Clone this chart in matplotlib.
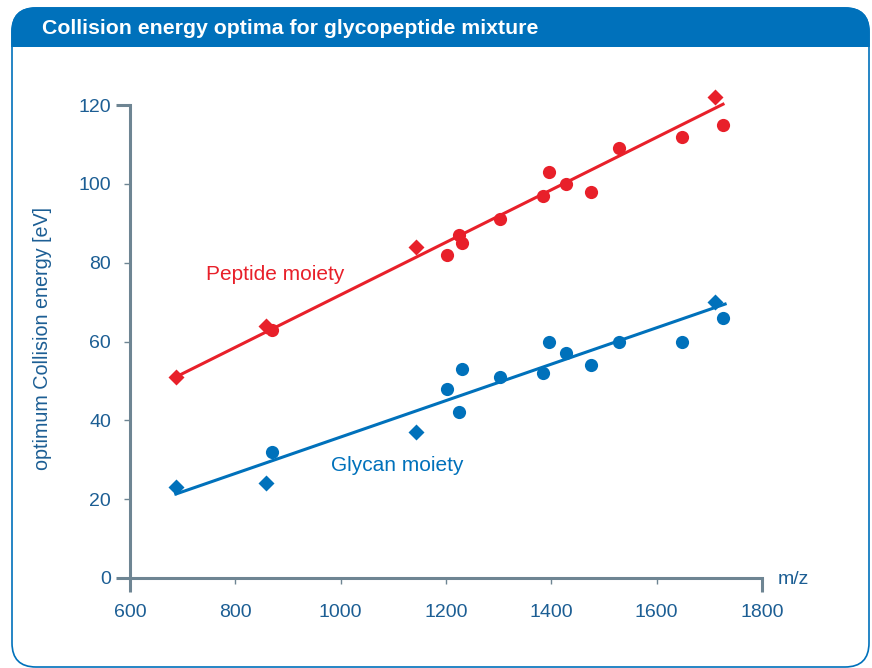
import matplotlib.pyplot as plt
from matplotlib.patches import FancyBboxPatch, Rectangle
from matplotlib.transforms import IdentityTransform

# data
pep_diam_x = [687, 858, 1143, 1711]
pep_diam_y = [51, 64, 84, 122]
pep_circ_x = [870, 1202, 1225, 1230, 1302, 1384, 1395, 1428, 1475, 1528, 1648, 1726]
pep_circ_y = [63, 82, 87, 85, 91, 97, 103, 100, 98, 109, 112, 115]
pep_fit_x = [687, 1726]
pep_fit_y = [51, 120.2]

gly_diam_x = [687, 858, 1143, 1711]
gly_diam_y = [23, 24, 37, 70]
gly_circ_x = [870, 1202, 1225, 1230, 1302, 1384, 1395, 1428, 1475, 1528, 1648, 1726]
gly_circ_y = [32, 48, 42, 53, 51, 52, 60, 57, 54, 60, 60, 66]
gly_fit_x = [687, 1730]
gly_fit_y = [21.3, 69.5]

x_ticks = [600, 800, 1000, 1200, 1400, 1600, 1800]
y_ticks = [0, 20, 40, 60, 80, 100, 120]

RED = "#e8202a"
BLUE = "#0071bb"
AXIS = "#6e8593"
LABEL = "#1c5e94"

plt.rcParams["font.family"] = ["Liberation Sans", "DejaVu Sans"]

W, H = 872, 668
fig = plt.figure(figsize=(W / 100, H / 100), dpi=100)

# framed panel with blue header band
box = FancyBboxPatch((12, 1), 857, 659, boxstyle="round,pad=0,rounding_size=24",
                     transform=IdentityTransform(), facecolor="white",
                     edgecolor=BLUE, linewidth=1.2, zorder=-2)
fig.patches.append(box)
head = FancyBboxPatch((12, 1), 857, 659, boxstyle="round,pad=0,rounding_size=24",
                      transform=IdentityTransform(), facecolor=BLUE,
                      edgecolor=BLUE, linewidth=1.2, zorder=-1)
clip = Rectangle((0, H - 47), W, 47, transform=IdentityTransform())
head.set_clip_path(clip)
fig.patches.append(head)
fig.text(42 / W, 1 - 29 / H, "Collision energy optima for glycopeptide mixture",
         color="white", fontsize=15.3, fontweight="bold", va="center", ha="left")

ax = fig.add_axes([130 / W, (H - 578) / H, 632 / W, 473 / H])
ax.set_facecolor("none")
ax.set_xlim(600, 1800)
ax.set_ylim(0, 120)

ax.plot(pep_fit_x, pep_fit_y, color=RED, lw=2.2, clip_on=False, zorder=3)
ax.plot(pep_circ_x, pep_circ_y, "o", color=RED, ms=9.5, mec="none", clip_on=False, zorder=4)
ax.plot(pep_diam_x, pep_diam_y, "D", color=RED, ms=8.3, mec="none", clip_on=False, zorder=4)
ax.plot(gly_fit_x, gly_fit_y, color=BLUE, lw=2.2, clip_on=False, zorder=3)
ax.plot(gly_circ_x, gly_circ_y, "o", color=BLUE, ms=9.5, mec="none", clip_on=False, zorder=4)
ax.plot(gly_diam_x, gly_diam_y, "D", color=BLUE, ms=8.3, mec="none", clip_on=False, zorder=4)

ax.text(744, 77, "Peptide moiety", color=RED, fontsize=15, va="center", ha="left")
ax.text(981, 28.5, "Glycan moiety", color=BLUE, fontsize=15, va="center", ha="left")

for s in ["top", "right"]:
    ax.spines[s].set_visible(False)
for s in ["left", "bottom"]:
    ax.spines[s].set_color(AXIS)
    ax.spines[s].set_linewidth(2.2)

ax.set_xticks(x_ticks)
ax.set_yticks(y_ticks)
ax.xaxis.remove_overlapping_locs = False
ax.yaxis.remove_overlapping_locs = False
ax.set_xticks([600, 1800], minor=True)
ax.set_yticks([0, 120], minor=True)
ax.tick_params(which="major", length=4.5, width=1, color=AXIS, labelcolor=LABEL,
               labelsize=14)
ax.tick_params(axis="x", which="major", pad=14)
ax.tick_params(axis="y", which="major", pad=9)
ax.tick_params(which="minor", length=10, width=2.2, color=AXIS)

fig.text(42 / W, 1 - 338 / H, "optimum Collision energy [eV]", color=LABEL,
         fontsize=14.2, rotation=90, va="center", ha="center")
fig.text(778 / W, 1 - 580 / H, "m/z", color=LABEL, fontsize=14,
         va="center", ha="left")

fig.savefig("out.png", dpi=100)
